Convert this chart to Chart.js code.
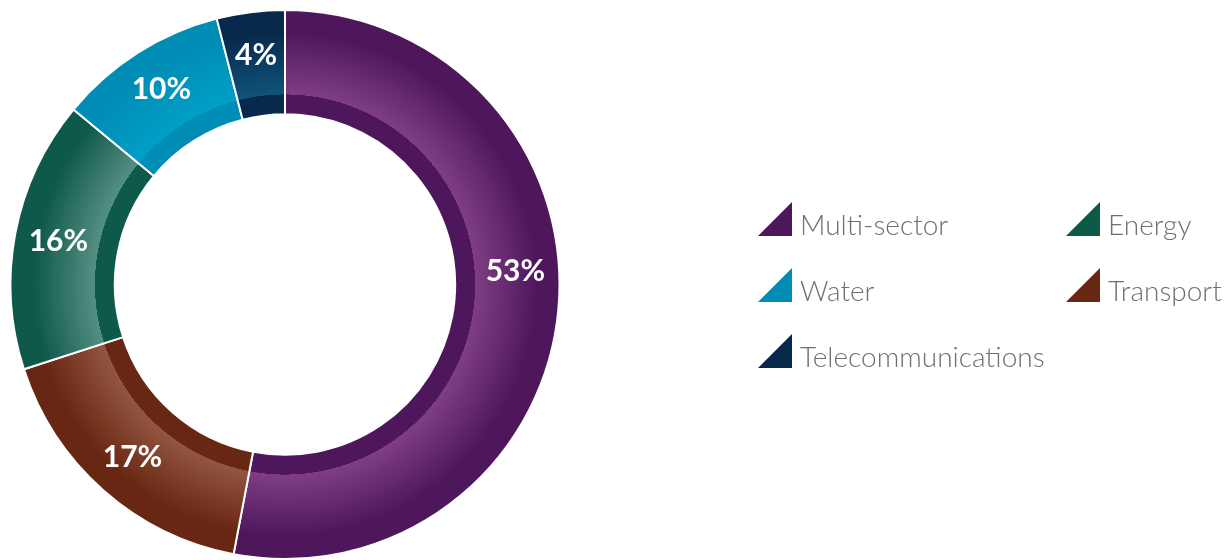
<!DOCTYPE html>
<html>
<head>
<meta charset="utf-8">
<script src="https://cdn.jsdelivr.net/npm/chart.js@4/dist/chart.umd.min.js"></script>
<style>
  html, body { margin: 0; padding: 0; background: #fff; }
  #wrap { position: relative; width: 1231px; height: 560px; }
</style>
</head>
<body>
<div id="wrap"><canvas id="sectorChart" width="1231" height="560"></canvas></div>
<script>
// data, clockwise from 12 o'clock
const sectors = ['Multi-sector', 'Transport', 'Energy', 'Water', 'Telecommunications'];
const shares = [53, 17, 16, 10, 4];
const baseColors = ['#4e175c', '#682712', '#0f594a', '#008db5', '#072a4c'];
const lightColors = ['#7f3e83', '#925640', '#558f83', '#009fc7', '#11527b'];
// legend is a 2-column grid in this order
const legendOrder = [0, 2, 3, 1, 4];

const cutoutPct = 62;
const ringSplit = 0.19; // inner dark band share of the ring thickness

function ringGradient(context) {
    const i = context.dataIndex;
    const chart = context.chart;
    const area = chart.chartArea;
    if (!area) return baseColors[i];
    const x = (area.left + area.right) / 2;
    const y = (area.top + area.bottom) / 2;
    const outer = Math.min(area.width, area.height) / 2 - 1;
    const inner = outer * cutoutPct / 100;
    const g = chart.ctx.createRadialGradient(x, y, inner, x, y, outer);
    g.addColorStop(0, baseColors[i]);
    g.addColorStop(ringSplit, baseColors[i]);
    g.addColorStop(ringSplit + 0.001, lightColors[i]);
    g.addColorStop(0.78, baseColors[i]);
    g.addColorStop(1, baseColors[i]);
    return g;
}

// percent labels on the ring
const labelPlugin = {
    id: 'ringLabels',
    afterDatasetsDraw(chart) {
        const ctx = chart.ctx;
        const meta = chart.getDatasetMeta(0);
        ctx.save();
        ctx.fillStyle = '#ffffff';
        ctx.font = 'bold 30px Lato, "Open Sans", sans-serif';
        ctx.textAlign = 'center';
        ctx.textBaseline = 'middle';
        meta.data.forEach((arc, i) => {
            const p = arc.getProps(['x', 'y', 'startAngle', 'endAngle', 'innerRadius', 'outerRadius'], true);
            let a = (p.startAngle + p.endAngle) / 2;
            if (i === 0) a -= 0.15; // big slice label sits a little above its midpoint
            const r = p.innerRadius + (p.outerRadius - p.innerRadius) * 0.58;
            ctx.fillText(shares[i] + '%', p.x + Math.cos(a) * r, p.y + Math.sin(a) * r);
        });
        ctx.restore();
    }
};

// legend with right-triangle markers
const legendPlugin = {
    id: 'triLegend',
    afterDraw(chart) {
        const ctx = chart.ctx;
        const left = 758, colGap = 308, top = 202, rowGap = 66, size = 34;
        ctx.save();
        ctx.font = '300 28px Lato, "Open Sans", sans-serif';
        ctx.textBaseline = 'alphabetic';
        ctx.textAlign = 'left';
        legendOrder.forEach((idx, k) => {
            const x = left + (k % 2) * colGap;
            const y = top + Math.floor(k / 2) * rowGap;
            ctx.fillStyle = baseColors[idx];
            ctx.beginPath();
            ctx.moveTo(x, y + size);
            ctx.lineTo(x + size, y);
            ctx.lineTo(x + size, y + size);
            ctx.closePath();
            ctx.fill();
            ctx.fillStyle = '#6f6f6f';
            ctx.fillText(sectors[idx], x + 42, y + size - 1);
        });
        ctx.restore();
    }
};

const sectorChart = new Chart(document.getElementById('sectorChart'), {
    type: 'doughnut',
    data: {
        labels: sectors,
        datasets: [{
            data: shares,
            backgroundColor: ringGradient,
            borderColor: '#ffffff',
            borderWidth: 2,
            hoverOffset: 0
        }]
    },
    options: {
        responsive: false,
        animation: false,
        cutout: cutoutPct + '%',
        layout: { padding: { left: 9, top: 9, right: 670, bottom: 0 } },
        plugins: {
            legend: { display: false },
            tooltip: { enabled: false }
        }
    },
    plugins: [labelPlugin, legendPlugin]
});
</script>
</body>
</html>
